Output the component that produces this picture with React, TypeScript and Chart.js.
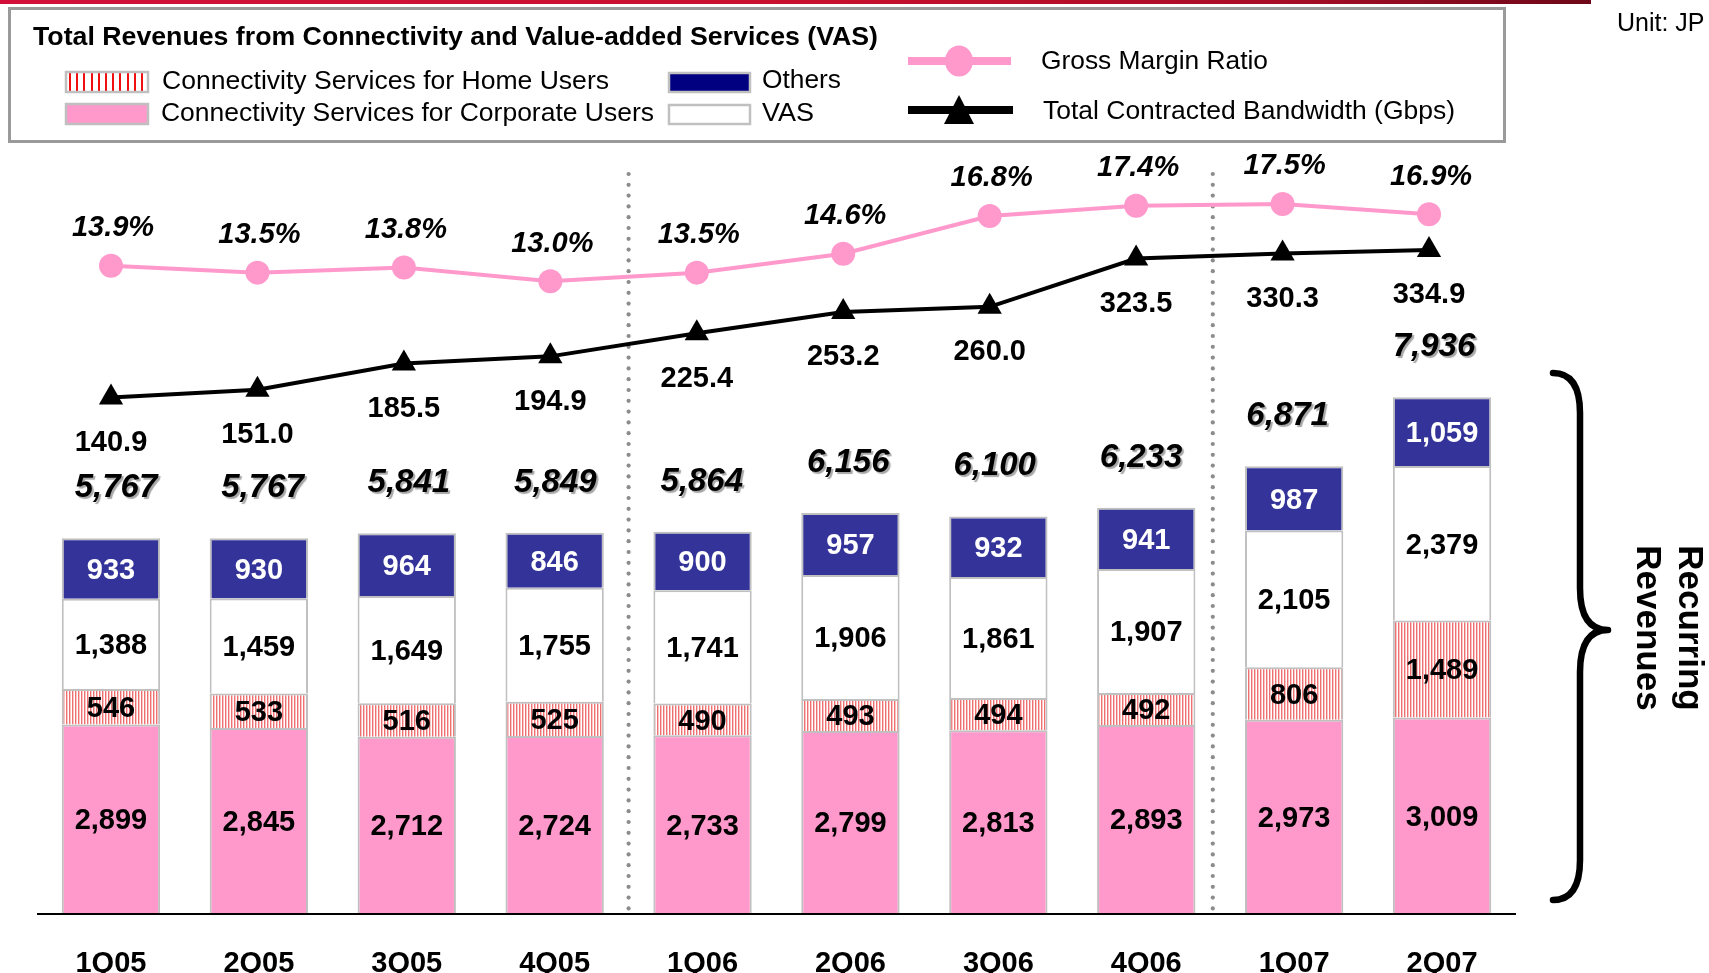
import React, { useEffect, useRef } from "react";
import { Chart, registerables } from "chart.js";

Chart.register(...registerables);

const quarters = ["1Q05", "2Q05", "3Q05", "4Q05", "1Q06", "2Q06", "3Q06", "4Q06", "1Q07", "2Q07"];
const corporate = [2899, 2845, 2712, 2724, 2733, 2799, 2813, 2893, 2973, 3009];
const home = [546, 533, 516, 525, 490, 493, 494, 492, 806, 1489];
const vas = [1388, 1459, 1649, 1755, 1741, 1906, 1861, 1907, 2105, 2379];
const others = [933, 930, 964, 846, 900, 957, 932, 941, 987, 1059];
const totals = [5767, 5767, 5841, 5849, 5864, 6156, 6100, 6233, 6871, 7936];
const grossMargin = [13.9, 13.5, 13.8, 13.0, 13.5, 14.6, 16.8, 17.4, 17.5, 16.9];
const bandwidth = [140.9, 151.0, 185.5, 194.9, 225.4, 253.2, 260.0, 323.5, 330.3, 334.9];
const separators = [3.5, 7.45];

const FONT = '"Liberation Sans", Arial, Helvetica, sans-serif';
const PINK = "#FF99CC";
const NAVY = "#333399";
const GRAY_BORDER = "#C0C0C0";

function fitText(ctx: CanvasRenderingContext2D, text: string, x: number, yCenter: number, size: number, weight: string, width: number) {
  ctx.save();
  ctx.font = `${weight} ${size}px ${FONT}`;
  ctx.textAlign = "left";
  ctx.textBaseline = "alphabetic";
  const w = ctx.measureText(text).width;
  const s = width / w;
  ctx.translate(x, yCenter + size * 0.358);
  ctx.scale(s, 1);
  ctx.fillStyle = "#000";
  ctx.fillText(text, 0, 0);
  ctx.restore();
}

function centerText(ctx: CanvasRenderingContext2D, text: string, x: number, yCenter: number, font: string, size: number, color: string) {
  ctx.font = `${font} ${size}px ${FONT}`;
  ctx.textAlign = "center";
  ctx.textBaseline = "alphabetic";
  ctx.fillStyle = color;
  ctx.fillText(text, x, yCenter + size * 0.358);
}

function makeHatch(ctx: CanvasRenderingContext2D) {
  const off = document.createElement("canvas");
  off.width = 3;
  off.height = 4;
  const o = off.getContext("2d")!;
  o.fillStyle = "#FFFFFF";
  o.fillRect(0, 0, 3, 4);
  o.fillStyle = "#EE7070";
  o.fillRect(0, 0, 1, 4);
  o.fillStyle = "#F8C4C4";
  o.fillRect(1, 0, 1, 4);
  return ctx.createPattern(off, "repeat")!;
}

const decorPlugin = {
  id: "decor",
  beforeDraw(chart: any) {
    const ctx = chart.ctx as CanvasRenderingContext2D;
    ctx.save();
    ctx.fillStyle = "#FFFFFF";
    ctx.fillRect(0, 0, chart.width, chart.height);
    ctx.restore();
  },
  beforeDatasetsDraw(chart: any) {
    const ctx = chart.ctx as CanvasRenderingContext2D;
    const xs = chart.scales.x;
    const area = chart.chartArea;
    ctx.save();
    ctx.fillStyle = "#8C8C8C";
    separators.forEach((v) => {
      const x = xs.getPixelForValue(v);
      for (let y = 174; y <= area.bottom; y += 10.8) {
        ctx.beginPath();
        ctx.arc(x, y, 2.1, 0, Math.PI * 2);
        ctx.fill();
      }
    });
    ctx.restore();
  },
  afterDatasetsDraw(chart: any) {
    const ctx = chart.ctx as CanvasRenderingContext2D;
    const area = chart.chartArea;
    const xs = chart.scales.x;
    const xl = chart.scales.xLine;
    ctx.save();

    // baseline
    ctx.strokeStyle = "#000";
    ctx.lineWidth = 2;
    ctx.beginPath();
    ctx.moveTo(area.left, area.bottom + 1);
    ctx.lineTo(area.right, area.bottom + 1);
    ctx.stroke();

    // segment labels
    const barSets = [2, 3, 4, 5];
    barSets.forEach((di) => {
      const meta = chart.getDatasetMeta(di);
      const vals = chart.data.datasets[di].data as number[];
      meta.data.forEach((el: any, i: number) => {
        const p = el.getProps(["x", "y", "base"], true);
        const cy = (p.y + p.base) / 2;
        centerText(ctx, vals[i].toLocaleString("en-US"), p.x, cy, "bold", 29, di === 5 ? "#FFFFFF" : "#000000");
      });
    });

    // totals (placed on the line-series spacing, above each bar)
    const topMeta = chart.getDatasetMeta(5);
    topMeta.data.forEach((el: any, i: number) => {
      const p = el.getProps(["x", "y"], true);
      ctx.save();
      ctx.shadowColor = "rgba(0,0,0,0.35)";
      ctx.shadowOffsetX = 2;
      ctx.shadowOffsetY = 2;
      ctx.shadowBlur = 1;
      centerText(ctx, totals[i].toLocaleString("en-US"), xl.getPixelForValue(i) + 5, p.y - 53, "italic bold", 33, "#000");
      ctx.restore();
    });

    // gross margin labels
    chart.getDatasetMeta(0).data.forEach((el: any, i: number) => {
      const p = el.getProps(["x", "y"], true);
      centerText(ctx, grossMargin[i].toFixed(1) + "%", p.x + 2, p.y - 40, "italic bold", 29, "#000");
    });
    // bandwidth labels
    chart.getDatasetMeta(1).data.forEach((el: any, i: number) => {
      const p = el.getProps(["x", "y"], true);
      centerText(ctx, bandwidth[i].toFixed(1), p.x, p.y + 43, "bold", 29, "#000");
    });

    // x labels
    ctx.font = `bold 29px ${FONT}`;
    ctx.textAlign = "center";
    ctx.textBaseline = "alphabetic";
    ctx.fillStyle = "#000";
    quarters.forEach((q, i) => {
      ctx.fillText(q, xs.getPixelForValue(i), 972);
    });

    ctx.restore();
  },
  afterDraw(chart: any) {
    const ctx = chart.ctx as CanvasRenderingContext2D;
    const area = chart.chartArea;
    ctx.save();

    // header red line
    const g = ctx.createLinearGradient(0, 0, 1591, 0);
    g.addColorStop(0, "#D2103A");
    g.addColorStop(0.5, "#C8102E");
    g.addColorStop(0.8, "#A80C26");
    g.addColorStop(1, "#6E0818");
    ctx.fillStyle = g;
    ctx.fillRect(0, 0, 1591, 4);

    // unit
    ctx.font = `25px ${FONT}`;
    ctx.textAlign = "left";
    ctx.textBaseline = "alphabetic";
    ctx.fillStyle = "#000";
    ctx.fillText("Unit: JP", 1617, 31);

    // legend box
    ctx.strokeStyle = "#9A9A9A";
    ctx.lineWidth = 3;
    ctx.strokeRect(9.5, 8.5, 1495, 133);

    fitText(ctx, "Total Revenues from Connectivity and Value-added Services (VAS)", 33, 36, 26, "bold", 845);

    // home swatch (hatched)
    ctx.fillStyle = "#FFFFFF";
    ctx.fillRect(66, 72, 82, 20);
    ctx.fillStyle = "#F01010";
    for (let x = 69; x < 146; x += 7.2) {
      ctx.fillRect(Math.round(x), 73, 2, 18);
    }
    ctx.strokeStyle = GRAY_BORDER;
    ctx.lineWidth = 2.5;
    ctx.strokeRect(66, 72, 82, 20);
    fitText(ctx, "Connectivity Services for Home Users", 162, 80, 26, "", 447);

    // corporate swatch
    ctx.fillStyle = PINK;
    ctx.fillRect(66, 104, 82, 20);
    ctx.strokeRect(66, 104, 82, 20);
    fitText(ctx, "Connectivity Services for Corporate Users", 161, 112, 26, "", 493);

    // others swatch
    ctx.fillStyle = "#000080";
    ctx.fillRect(669, 73, 81, 19);
    ctx.strokeRect(669, 73, 81, 19);
    fitText(ctx, "Others", 762, 79, 26, "", 79);

    // VAS swatch
    ctx.fillStyle = "#FFFFFF";
    ctx.fillRect(669, 105, 81, 19);
    ctx.strokeRect(669, 105, 81, 19);
    fitText(ctx, "VAS", 762, 112, 26, "", 52);

    // gross margin legend
    ctx.strokeStyle = PINK;
    ctx.lineWidth = 8;
    ctx.beginPath();
    ctx.moveTo(908, 61);
    ctx.lineTo(1011, 61);
    ctx.stroke();
    ctx.fillStyle = PINK;
    ctx.beginPath();
    ctx.ellipse(959, 61, 14, 15.5, 0, 0, Math.PI * 2);
    ctx.fill();
    fitText(ctx, "Gross Margin Ratio", 1041, 60, 26, "", 227);

    // bandwidth legend
    ctx.strokeStyle = "#000";
    ctx.lineWidth = 8;
    ctx.beginPath();
    ctx.moveTo(908, 110);
    ctx.lineTo(1013, 110);
    ctx.stroke();
    ctx.fillStyle = "#000";
    ctx.beginPath();
    ctx.moveTo(959, 95);
    ctx.lineTo(974, 124);
    ctx.lineTo(944, 124);
    ctx.closePath();
    ctx.fill();
    fitText(ctx, "Total Contracted Bandwidth (Gbps)", 1043, 110, 26, "", 412);

    // brace
    const bx = area.right + 37;
    const sx = area.right + 64;
    const tx = area.right + 92;
    const top = 373, mid = 630, bot = 900;
    ctx.strokeStyle = "#000";
    ctx.lineWidth = 6.5;
    ctx.lineCap = "round";
    ctx.lineJoin = "round";
    ctx.beginPath();
    ctx.moveTo(bx, top);
    ctx.quadraticCurveTo(sx, top, sx, top + 40);
    ctx.lineTo(sx, mid - 42);
    ctx.quadraticCurveTo(sx, mid, tx, mid);
    ctx.quadraticCurveTo(sx, mid, sx, mid + 42);
    ctx.lineTo(sx, bot - 40);
    ctx.quadraticCurveTo(sx, bot, bx, bot);
    ctx.stroke();

    // brace text (rotated)
    ctx.font = `bold 35px ${FONT}`;
    ctx.textAlign = "center";
    ctx.textBaseline = "alphabetic";
    ctx.fillStyle = "#000";
    const lines: [string, number][] = [["Recurring", area.right + 163], ["Revenues", area.right + 121]];
    lines.forEach(([t, x]) => {
      ctx.save();
      ctx.translate(x, 628);
      ctx.rotate(Math.PI / 2);
      ctx.fillText(t, 0, 0);
      ctx.restore();
    });

    ctx.restore();
  },
};

export default function App() {
  const ref = useRef<HTMLCanvasElement | null>(null);
  useEffect(() => {
    const canvas = ref.current!;
    const ctx = canvas.getContext("2d")!;
    const hatch = makeHatch(ctx);
    const barCommon = {
      type: "bar",
      borderColor: GRAY_BORDER,
      borderWidth: 2,
      barPercentage: 0.665,
      categoryPercentage: 1,
      grouped: false,
      order: 1,
      xAxisID: "x",
      yAxisID: "y",
    };
    const marginPoints = grossMargin.map((v, i) => ({ x: i, y: v }));
    const bandwidthPoints = bandwidth.map((v, i) => ({ x: i, y: v }));
    const chart = new Chart(canvas, {
      type: "bar",
      data: {
        labels: quarters,
        datasets: [
          {
            type: "line",
            label: "Gross Margin Ratio",
            data: marginPoints,
            xAxisID: "xLine",
            yAxisID: "yPct",
            borderColor: PINK,
            backgroundColor: PINK,
            borderWidth: 4,
            pointStyle: "circle",
            pointRadius: 12,
            pointBorderWidth: 0,
            tension: 0,
            order: 0,
          } as any,
          {
            type: "line",
            label: "Total Contracted Bandwidth (Gbps)",
            data: bandwidthPoints,
            xAxisID: "xLine",
            yAxisID: "yBw",
            borderColor: "#000000",
            backgroundColor: "#000000",
            borderWidth: 4,
            pointStyle: "triangle",
            pointRadius: 14,
            pointBorderWidth: 0,
            tension: 0,
            order: 0,
          } as any,
          { label: "Connectivity Services for Corporate Users", data: corporate, backgroundColor: PINK, ...barCommon },
          { label: "Connectivity Services for Home Users", data: home, backgroundColor: hatch, ...barCommon },
          { label: "VAS", data: vas, backgroundColor: "#FFFFFF", ...barCommon },
          { label: "Others", data: others, backgroundColor: NAVY, ...barCommon },
        ],
      },
      options: {
        responsive: false,
        animation: false,
        events: [],
        layout: { padding: { left: 37, right: 193, top: 140, bottom: 60 } },
        scales: {
          x: { type: "category", display: false, stacked: true, offset: true },
          xLine: { type: "linear", axis: "x", position: "bottom", display: false, min: -0.5053, max: 9.594, offset: false },
          y: { display: false, stacked: true, min: 0, max: 11892 },
          yPct: { axis: "y", display: false, min: -23.82, max: 21.23 },
          yBw: { axis: "y", display: false, min: -537.3, max: 479.5 },
        },
        plugins: { legend: { display: false }, tooltip: { enabled: false } },
      },
      plugins: [decorPlugin],
    } as any);
    return () => chart.destroy();
  }, []);
  return (
    <div style={{ position: "fixed", left: 0, top: 0, width: 1709, height: 973, overflow: "hidden", background: "#fff" }}>
      <canvas ref={ref} width={1709} height={973} style={{ display: "block", width: 1709, height: 973 }} />
    </div>
  );
}
